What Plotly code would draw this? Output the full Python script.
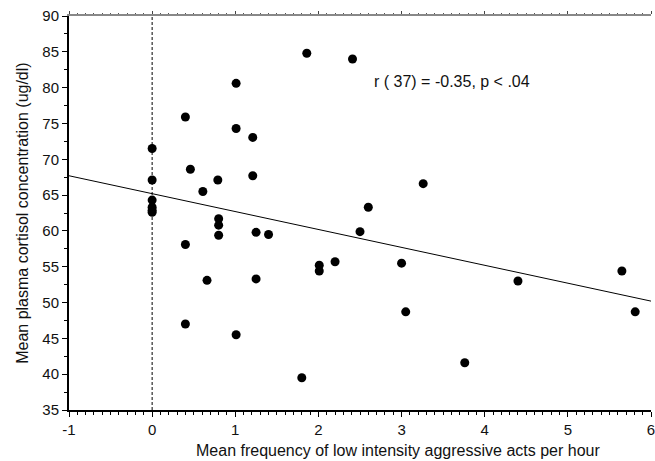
import plotly.graph_objects as go

# Data
freq = [0, 0, 0, 0, 0, 0,
        0.40, 0.46, 0.61, 0.79, 0.80, 0.80, 0.80, 0.40, 0.66, 0.40,
        1.86, 2.41, 1.01, 1.01, 1.21, 1.21, 3.26, 2.60, 1.25, 1.40, 2.50,
        1.25, 1.01, 1.80, 2.01, 2.01, 2.20, 3.00, 3.05, 3.76, 4.40, 5.65, 5.81]
cortisol = [71.5, 67.1, 64.3, 63.3, 62.9, 62.6,
            75.9, 68.6, 65.5, 67.1, 61.7, 60.8, 59.4, 58.1, 53.1, 47.0,
            84.8, 84.0, 80.6, 74.3, 73.05, 67.7, 66.6, 63.3, 59.8, 59.5, 59.9,
            53.3, 45.5, 39.5, 55.2, 54.4, 55.7, 55.5, 48.7, 41.6, 53.0, 54.4, 48.7]

fit_x = [-1, 6]
fit_y = [67.7, 50.2]

zero_x = [0, 0]
zero_y = [35, 90]

x_ticks = [-1, 0, 1, 2, 3, 4, 5, 6]
x_tick_labels = ["-1", "0", "1", "2", "3", "4", "5", "6"]
y_ticks = [35, 40, 45, 50, 55, 60, 65, 70, 75, 80, 85, 90]

stat_text = "r ( 37) = -0.35, p < .04"
x_title = "Mean frequency of low intensity aggressive acts per hour"
y_title = "Mean plasma cortisol concentration (ug/dl)"

FONT = "Liberation Sans, Arial, Helvetica, sans-serif"

# plot-area geometry in pixels (for placing titles)
L, R, T, B = 69, 655, 16, 410
W, H = R - L, B - T

fig = go.Figure()

fig.add_trace(go.Scatter(x=zero_x, y=zero_y, mode="lines",
                         line=dict(color="black", width=1, dash="3px,2px"),
                         showlegend=False, hoverinfo="skip"))
fig.add_trace(go.Scatter(x=fit_x, y=fit_y, mode="lines",
                         line=dict(color="black", width=1),
                         showlegend=False, hoverinfo="skip"))
fig.add_trace(go.Scatter(x=freq, y=cortisol, mode="markers",
                         marker=dict(color="black", size=9),
                         showlegend=False))
# invisible trace on top axis so it renders
fig.add_trace(go.Scatter(x=fit_x, y=fit_y, mode="markers", xaxis="x2",
                         marker=dict(opacity=0), showlegend=False,
                         hoverinfo="skip"))

fig.add_annotation(x=2.65, y=80.9, text=stat_text, showarrow=False,
                   xanchor="left", yanchor="middle",
                   font=dict(family=FONT, size=16, color="#111"))

fig.add_annotation(x=(400 - L) / W, y=(B - 450) / H, xref="paper", yref="paper",
                   text=x_title, showarrow=False, xanchor="center", yanchor="middle",
                   font=dict(family=FONT, size=16, color="#111"))
fig.add_annotation(x=(22 - L) / W, y=(B - 213.5) / H, xref="paper", yref="paper",
                   text=y_title, showarrow=False, textangle=-90,
                   xanchor="center", yanchor="middle",
                   font=dict(family=FONT, size=16, color="#111"))

fig.update_layout(
    width=655, height=461,
    margin=dict(l=L, r=655 - R, t=T, b=461 - B),
    plot_bgcolor="white", paper_bgcolor="white",
    font=dict(family=FONT, size=15, color="#111"),
    xaxis=dict(range=[-1, 6], tickvals=x_ticks, ticktext=x_tick_labels,
               ticks="outside", ticklen=5,
               tickwidth=1, tickcolor="black", showline=True, linecolor="black",
               linewidth=1.5, showgrid=False, zeroline=False,
               ticklabeloverflow="allow",
               minor=dict(dtick=0.1, ticks="outside", ticklen=3,
                          tickcolor="black", tickwidth=1, showgrid=False),
               tickfont=dict(size=15)),
    xaxis2=dict(range=[-1, 6], overlaying="x", side="top", anchor="y",
                tickvals=x_ticks, showticklabels=False, ticks="outside",
                ticklen=3, tickcolor="#444", tickwidth=1, showline=True,
                linecolor="#888", linewidth=1.5, showgrid=False, zeroline=False,
                minor=dict(dtick=0.1, ticks="outside", ticklen=1.5,
                           tickcolor="#555", tickwidth=1, showgrid=False)),
    yaxis=dict(range=[35, 90], tickvals=y_ticks, ticks="outside", ticklen=5,
               tickwidth=1, tickcolor="black", showline=True, linecolor="black",
               linewidth=2, showgrid=False, zeroline=False,
               minor=dict(dtick=2.5, ticks="outside", ticklen=3,
                          tickcolor="black", tickwidth=1, showgrid=False),
               tickfont=dict(size=15)),
)

fig.write_html("out.html")
